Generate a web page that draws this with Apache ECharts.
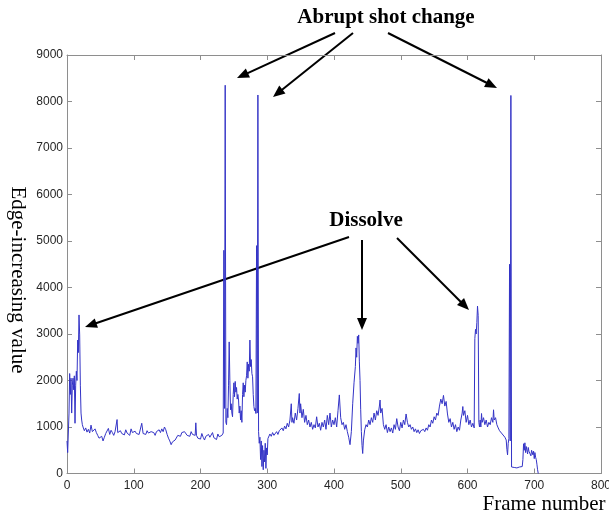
<!DOCTYPE html>
<html><head><meta charset="utf-8">
<script src="https://cdn.jsdelivr.net/npm/echarts@6/dist/echarts.min.js"></script>
<style>html,body{margin:0;padding:0;background:#fff}#c{width:609px;height:521px}</style>
</head><body><div id="c"></div>
<script>
// ---- data: [frame, edge-increasing value] ----
const segStart = [[0,700],[1,450],[2,430],[3,1300],[4,2150],[5,1700],[6,2050],[7,1300],[8,1900],[9,2050],[10,1800],[11,2100],[12,1080],[13,1900],[14,2200],[15,2000],[16,2870],[17,2600],[18,3410],[19,2980],[20,1900],[21,1300],[22,1150],[23,1050]];
const segFlat1 = [[24,1000],[26,920],[28,980],[30,890],[32,950],[34,870],[36,1040],[38,900],[40,860],[42,960],[44,880],[46,820],[48,760],[50,720],[52,800],[54,700],[56,780],[58,860],[60,820],[62,970],[64,840],[66,930],[68,880],[70,820],[72,900],[74,860],[75,1160],[76,880],[78,840],[80,920],[82,860],[84,900],[86,830],[88,940],[90,870],[92,900],[94,820],[96,960],[98,880],[100,850],[102,910],[104,860],[106,900],[108,840],[110,880],[112,1080],[114,860],[116,900],[118,840],[120,920],[122,870],[124,830],[126,900],[128,860],[130,880],[132,820],[134,900],[136,860],[138,940],[140,880],[142,960],[144,900],[146,1000],[148,940],[150,840],[152,760],[154,700],[156,620],[158,680],[160,640],[162,720],[164,700],[166,820],[168,860],[170,800],[172,880],[174,840],[176,900],[178,870],[180,820],[182,860],[184,800],[186,900],[188,840],[190,880],[192,820],[193,1090],[194,820],[196,760],[198,800],[200,740],[202,860],[204,780],[206,720],[208,800],[210,760],[212,840],[214,780],[216,740],[218,880],[220,770],[222,800],[224,730],[226,850],[228,790],[230,760],[232,820],[234,870]];
const segShots = [[235,4800],[236,1400],[237,8350],[238,1100],[239,1050],[240,1400],[241,1200],[242,1900],[243,2830],[244,2000],[245,1370],[246,1500],[247,1300],[248,1220],[249,1700],[250,1950],[251,1650],[252,1980],[253,1750],[254,1850],[255,1600],[256,1700],[257,1580],[258,1300],[259,1450],[260,1150],[261,1350],[262,1100],[263,1700],[264,1950],[265,1650],[266,1900],[267,1750],[268,2000],[269,2100],[270,2400],[271,2050],[272,2350],[273,2200],[274,2870],[275,2300],[276,2450],[277,2150],[278,2080],[279,1700],[280,1440],[281,1350],[282,1400],[283,1290],[284,4900],[285,1300],[286,8140],[287,900],[288,650],[289,780],[290,300],[291,700],[292,150],[293,600],[294,80],[295,500],[296,250],[297,650],[298,110],[299,550],[300,400],[301,750]];
const segMid = [[302,780],[304,850],[306,800],[308,880],[310,820],[312,860],[314,900],[316,840],[318,920],[320,880],[322,980],[324,920],[326,1020],[328,960],[330,1080],[332,1000],[334,1150],[336,1500],[337,1100],[338,1200],[340,1080],[342,1300],[344,1150],[346,1400],[348,1720],[349,1300],[350,1500],[352,1200],[354,1380],[356,1100],[358,1250],[360,1050],[362,1150],[364,1000],[366,1100],[368,950],[370,1050],[372,980],[374,1220],[376,1000],[378,1080],[380,930],[382,1100],[384,1000],[386,1150],[388,950],[390,1250],[392,1050],[394,1300],[396,1000],[398,1150],[400,1050],[402,1200],[404,1000],[406,1350],[408,1690],[410,1200],[412,1050],[414,1100],[416,950],[418,1050],[420,900],[422,780],[424,620],[426,900],[428,1500],[430,1950],[432,2300],[433,2700],[434,2500],[435,2950],[436,2800],[437,2980],[438,2400],[439,2000],[440,1370],[441,900],[442,600],[443,430],[444,700],[446,940],[448,1050],[450,1000]];
const segLate = [[452,1150],[454,1050],[456,1200],[458,1100],[460,1300],[462,1150],[464,1350],[466,1250],[468,1450],[469,1580],[470,1300],[472,1400],[474,1050],[476,950],[478,1050],[480,880],[482,1000],[484,900],[486,980],[488,870],[490,1050],[492,950],[494,1180],[496,1000],[498,920],[500,1100],[502,980],[504,1150],[506,1050],[508,1280],[510,1100],[512,1000],[514,1050],[516,950],[518,1000],[520,900],[522,960],[524,880],[526,940],[528,860],[530,920],[532,880],[534,950],[536,900],[538,980],[540,930],[542,1050],[544,1000],[546,1150],[548,1080],[550,1220],[552,1150],[554,1300],[556,1250],[558,1450],[560,1600],[562,1500],[564,1680],[566,1450],[568,1550],[570,1280],[572,1100],[574,1180],[576,1000],[578,1100],[580,950],[582,1050],[584,900],[586,1000],[588,930],[590,1150],[592,1300],[593,1440],[594,1250],[596,1350],[598,1100],[600,1250],[602,1050],[604,1150],[606,1000],[608,1080],[610,980]];
const segDissolve3 = [[611,2900],[612,3100],[613,3000],[614,3250],[615,3600],[616,3400],[617,1100]];
const segEnd = [[618,1000],[619,1150],[620,1000],[621,1290],[622,1100],[624,1200],[626,1050],[628,1150],[630,1000],[632,1100],[634,1050],[636,1200],[638,1100],[639,1370],[640,1150],[642,1200],[644,1050],[646,980],[648,920],[650,950],[652,850],[654,880],[656,780],[658,720],[659,520],[660,400],[661,650],[662,750],[663,4500],[664,700],[665,8130],[666,140],[668,110],[670,130],[672,100],[674,120],[676,110],[678,140],[680,120],[682,150],[683,300],[684,640],[685,500],[686,660],[687,450],[688,580],[690,420],[691,560],[692,480],[694,520],[695,380],[696,500],[698,400],[699,480],[700,320],[701,450],[702,350],[703,300],[704,200],[705,80],[706,0]];

const xTicks = {min:0, max:800, step:100};
const yTicks = {min:0, max:9000, step:1000};

const seriesData = [].concat(segStart, segFlat1, segShots, segMid, segLate, segDissolve3, segEnd);

// ---- annotations ----
const serif = '"Liberation Serif", "Times New Roman", serif';
const arrows = [
  [335,33,237,78],[353,33,273,97],[388,33,497,88],
  [349,237,85,327],[362,240,362,330],[397,238,469,310]
];
function arrowGraphic(a){
  const [x1,y1,x2,y2] = a;
  const dx = x2-x1, dy = y2-y1, L = Math.hypot(dx,dy);
  const ux = dx/L, uy = dy/L, hl = 12, hw = 5;
  const bx = x2-ux*hl, by = y2-uy*hl;
  return {type:'group', children:[
    {type:'line', shape:{x1:x1,y1:y1,x2:bx+ux*2,y2:by+uy*2}, style:{stroke:'#000', lineWidth:2}},
    {type:'polygon', shape:{points:[[x2,y2],[bx-uy*hw,by+ux*hw],[bx+uy*hw,by-ux*hw]]}, style:{fill:'#000'}}
  ]};
}
const textEls = [
  {type:'text', x:386, y:18, style:{text:'Abrupt shot change', fill:'#000', fontSize:21, fontWeight:'bold', fontFamily:serif, align:'center', verticalAlign:'middle'}},
  {type:'text', x:366, y:221, style:{text:'Dissolve', fill:'#000', fontSize:21, fontWeight:'bold', fontFamily:serif, align:'center', verticalAlign:'middle'}},
  {type:'text', x:544, y:504, style:{text:'Frame number', fill:'#000', fontSize:21, fontFamily:serif, align:'center', verticalAlign:'middle'}},
  {type:'text', x:18, y:280, rotation:-Math.PI/2, style:{text:'Edge-increasing value', fill:'#000', fontSize:21, fontFamily:serif, align:'center', verticalAlign:'middle'}}
];

const axisColor = '#8e8e8e';
const lbl = {color:'#262626', fontFamily:'"Liberation Sans", Arial, sans-serif', fontSize:12, formatter:function(v){return String(v);}};
function xAx(pos, showLabel){
  return {type:'value', min:xTicks.min, max:xTicks.max, interval:xTicks.step, position:pos,
    axisLine:{show:true, onZero:false, lineStyle:{color:axisColor, width:1}},
    axisTick:{show:true, inside:true, length:5, lineStyle:{color:axisColor}},
    axisLabel:Object.assign({show:showLabel, margin:6}, lbl), splitLine:{show:false}};
}
function yAx(pos, showLabel){
  return {type:'value', min:yTicks.min, max:yTicks.max, interval:yTicks.step, position:pos,
    axisLine:{show:true, onZero:false, lineStyle:{color:axisColor, width:1}},
    axisTick:{show:true, inside:true, length:5, lineStyle:{color:axisColor}},
    axisLabel:Object.assign({show:showLabel, margin:4}, lbl), splitLine:{show:false}};
}

const chart = echarts.init(document.getElementById('c'), null, {renderer:'canvas'});
chart.setOption({
  animation:false,
  backgroundColor:'#fff',
  grid:{left:67, right:8, top:55, bottom:47.5, containLabel:false, outerBoundsMode:'none'},
  xAxis:[xAx('bottom', true), xAx('top', false)],
  yAxis:[yAx('left', true), yAx('right', false)],
  series:[{type:'line', xAxisIndex:0, yAxisIndex:0, data:seriesData, showSymbol:false, silent:true,
    lineStyle:{color:'#3434c6', width:1}}],
  graphic: arrows.map(arrowGraphic).concat(textEls)
});
</script></body></html>
